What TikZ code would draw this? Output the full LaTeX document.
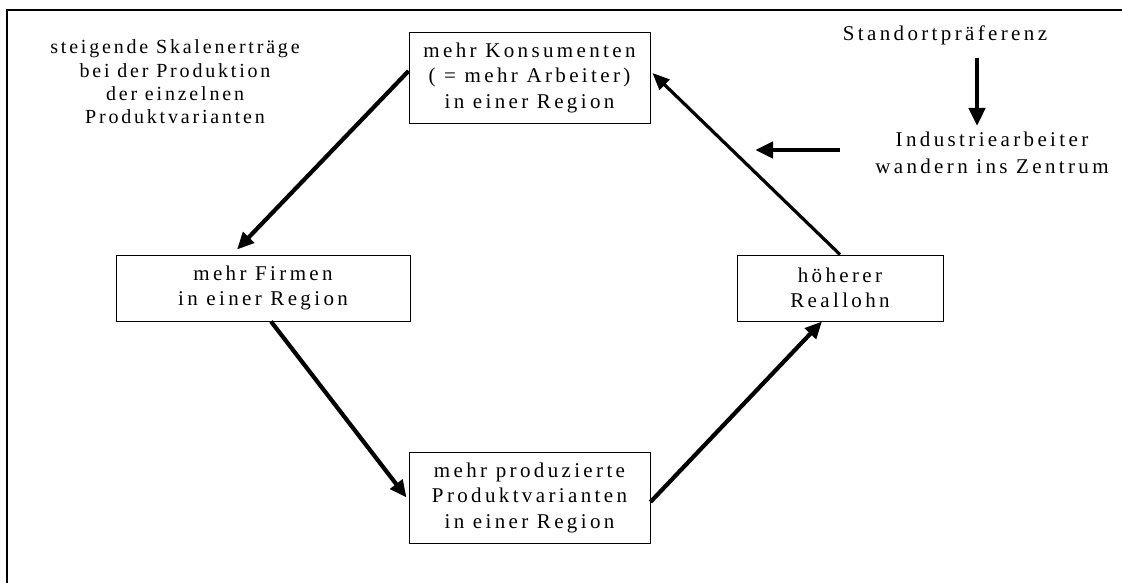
\documentclass[tikz,border=0pt]{standalone}
\usepackage{fontspec}
\setmainfont{Liberation Serif}
\newfontfamily\boxfont{Liberation Serif}[LetterSpace=16]
\newfontfamily\sidefont{Liberation Serif}[LetterSpace=16]
\newfontfamily\skalfont{Liberation Serif}[LetterSpace=14]
\usetikzlibrary{arrows.meta,calc}
\begin{document}
\begin{tikzpicture}[x=1pt,y=-1pt,
  box/.style={draw,line width=0.9pt,align=center,inner sep=0pt,font=\boxfont\fontsize{21}{25.5}\selectfont},
  lbl/.style={align=center,inner sep=0pt,font=\sidefont\fontsize{21}{26.5}\selectfont},
  conn/.style={line width=4.2pt,-{Triangle[length=17pt,width=15pt]}},
  thinconn/.style={line width=3.2pt,-{Triangle[length=17pt,width=14pt]}},
  thickconn/.style={line width=4.8pt,-{Triangle[length=18pt,width=16pt]}}]
\useasboundingbox (0,0) rectangle (1122,583);
\clip (0,0) rectangle (1122,583);
\draw[line width=2pt] (7,10) rectangle (1140,600);
\node[box,minimum width=241pt,minimum height=91pt] (top) at (529.5,77.5) {mehr Konsumenten\\( = mehr Arbeiter)\\in einer Region};
\node[box,minimum width=294pt,minimum height=66pt] (firm) at (263,288) {mehr Firmen\\in einer Region};
\node[box,minimum width=241pt,minimum height=91pt] (prod) at (529.5,497.5) {mehr produzierte\\Produktvarianten\\in einer Region};
\node[box,minimum width=206pt,minimum height=66pt] (real) at (840,288) {höherer\\Reallohn};
\node[lbl,font=\skalfont\fontsize{20}{23.3}\selectfont] (skal) at (175,82) {steigende Skalenerträge\\bei der Produktion\\der einzelnen\\Produktvarianten};
\node[lbl] (stand) at (945,35) {Standortpräferenz};
\node[lbl] (ind) at (992,153) {Industriearbeiter\\wandern ins Zentrum};
\coordinate (dstart) at (977,58);
\coordinate (dend) at (977,126);
\coordinate (lstart) at (840,150);
\coordinate (lend) at (755,150);
\draw[conn] ([yshift=6.5pt]top.west) -- ([xshift=-26pt,yshift=5pt]firm.north);
\draw[conn] ([xshift=8pt]firm.south) -- ([xshift=-2pt]prod.west);
\draw[conn] ([yshift=-4.5pt]prod.east) -- ([xshift=-18pt]real.south);
\draw[thinconn] (real.north) -- ([xshift=2pt,yshift=4.5pt]top.east);
\draw[thickconn] (dstart) -- (dend);
\draw[thickconn] (lstart) -- (lend);
\end{tikzpicture}
\end{document}
